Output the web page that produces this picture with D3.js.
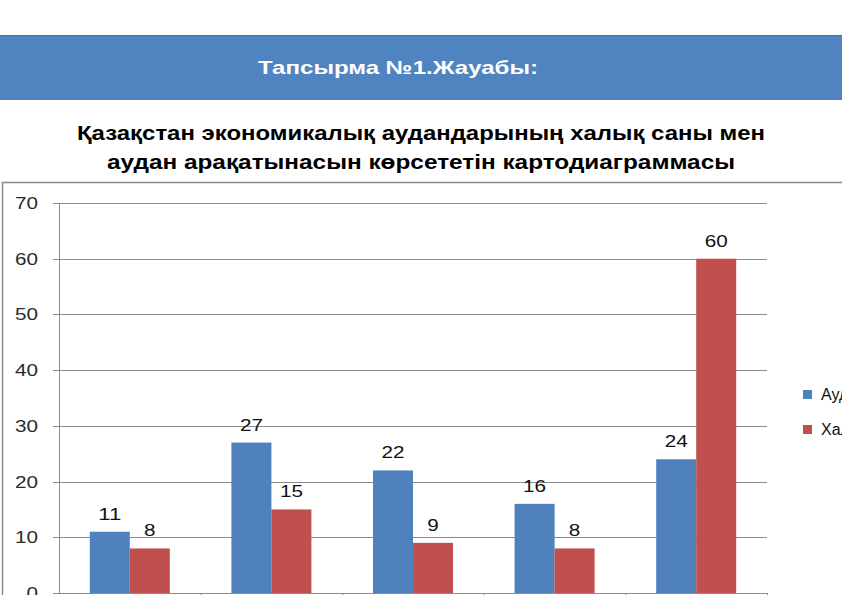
<!DOCTYPE html>
<html><head><meta charset="utf-8">
<script src="https://cdn.jsdelivr.net/npm/d3@7/dist/d3.min.js"></script>
<style>html,body{margin:0;padding:0;background:#fff;overflow:hidden}</style>
</head><body>
<svg id="c" width="842" height="595"></svg>
<script>
const categories = ["Орталық", "Шығыс", "Батыс", "Солтүстік", "Оңтүстік"];
const seriesNames = ["Аудан", "Халық саны"];
const audanValues = [11, 27, 22, 16, 24];
const halykValues = [8, 15, 9, 8, 60];
const yTicks = [0, 10, 20, 30, 40, 50, 60, 70];
const colors = ["#4F81BD", "#C0504D"];

const FONT = "Liberation Sans, Arial, sans-serif";
const svg = d3.select("#c");
// banner
svg.append("rect").attr("x", 0).attr("y", 35).attr("width", 842).attr("height", 65).attr("fill", "#4F84C0");
svg.append("line").attr("x1", 0).attr("x2", 842).attr("y1", 35.5).attr("y2", 35.5).attr("stroke", "#3F6FA8").attr("stroke-width", 1);
svg.append("text").attr("x", 398).attr("y", 74).attr("text-anchor", "middle")
  .attr("font-family", FONT).attr("font-weight", "bold")
  .attr("font-size", 19).attr("fill", "#fff").attr("textLength", 280).attr("lengthAdjust", "spacingAndGlyphs")
  .text("Тапсырма №1.Жауабы:");

// subtitle
const sub = ["Қазақстан экономикалық аудандарының халық саны мен", "аудан арақатынасын көрсететін картодиаграммасы"];
const subLens = [688, 628];
sub.forEach((s, i) => {
  svg.append("text").attr("x", 421).attr("y", 140 + i * 29).attr("text-anchor", "middle")
    .attr("font-family", FONT).attr("font-weight", "bold")
    .attr("font-size", 20).attr("fill", "#000").attr("textLength", subLens[i]).attr("lengthAdjust", "spacingAndGlyphs")
    .text(s);
});

// frame
svg.append("rect").attr("x", 2.5).attr("y", 182.5).attr("width", 860).attr("height", 440)
  .attr("fill", "#fff").attr("stroke", "#888").attr("stroke-width", 1.5);

const x0 = d3.scaleBand().domain(categories).range([59, 767]).paddingInner(0).paddingOuter(0);
const y = d3.scaleLinear().domain([0, 70]).range([593, 203]);
const groupW = 80;
const x1 = d3.scaleBand().domain(seriesNames).range([0, groupW]);
const numLen = v => String(v).length * 11.5;

const g = svg.append("g");
// gridlines
g.selectAll(".grid").data(yTicks).join("line")
  .attr("x1", 53).attr("x2", 767).attr("y1", d => Math.round(y(d)) + 0.5).attr("y2", d => Math.round(y(d)) + 0.5)
  .attr("stroke", "#8c8c8c").attr("stroke-width", 1);
// y axis line
g.append("line").attr("x1", 59.5).attr("x2", 59.5).attr("y1", y(70)).attr("y2", y(0)).attr("stroke", "#8c8c8c");
// y tick labels
g.selectAll(".yl").data(yTicks).join("text")
  .attr("x", 38).attr("y", d => y(d) + 6).attr("text-anchor", "end")
  .attr("font-family", FONT).attr("font-size", 16).attr("fill", "#2a2a2a")
  .attr("textLength", d => numLen(d)).attr("lengthAdjust", "spacingAndGlyphs")
  .text(d => d);
// category ticks
g.selectAll(".ct").data(categories).join("line")
  .attr("x1", d => x0(d) + x0.bandwidth() + 0.5).attr("x2", d => x0(d) + x0.bandwidth() + 0.5)
  .attr("y1", y(0)).attr("y2", y(0) + 6).attr("stroke", "#8c8c8c");

const data = categories.map((c, i) => ({ c, vals: [audanValues[i], halykValues[i]] }));
const groups = g.selectAll(".grp").data(data).join("g")
  .attr("transform", d => `translate(${x0(d.c) + (x0.bandwidth() - groupW) / 2},0)`);
groups.selectAll("rect").data(d => d.vals.map((v, k) => ({ v, s: seriesNames[k], k }))).join("rect")
  .attr("x", d => x1(d.s)).attr("width", x1.bandwidth())
  .attr("y", d => y(d.v)).attr("height", d => y(0) - y(d.v))
  .attr("fill", d => colors[d.k]);
groups.selectAll("text").data(d => d.vals.map((v, k) => ({ v, s: seriesNames[k], k }))).join("text")
  .attr("x", d => x1(d.s) + x1.bandwidth() / 2).attr("y", d => y(d.v) - 12).attr("text-anchor", "middle")
  .attr("font-family", FONT).attr("font-size", 16).attr("fill", "#111")
  .attr("textLength", d => numLen(d.v)).attr("lengthAdjust", "spacingAndGlyphs")
  .text(d => d.v);

// legend
const lg = svg.append("g");
seriesNames.forEach((s, i) => {
  lg.append("rect").attr("x", 803).attr("y", 390 + i * 35).attr("width", 9).attr("height", 9).attr("fill", colors[i]);
  lg.append("text").attr("x", 821).attr("y", 400 + i * 35)
    .attr("font-family", FONT).attr("font-size", 16).attr("fill", "#111").text(s);
});
</script>
</body></html>
